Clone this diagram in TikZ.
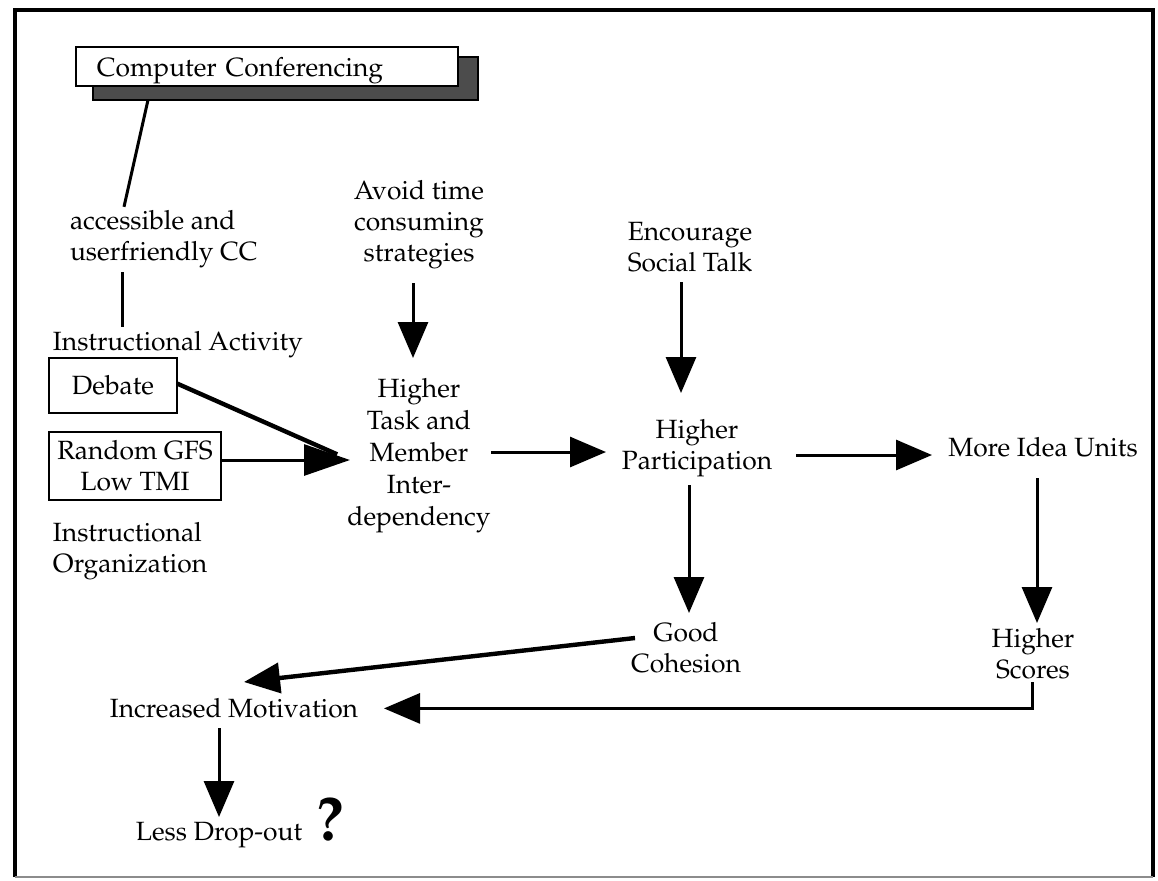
\documentclass[tikz,border=0pt]{standalone}
\usepackage[T1]{fontenc}
\usepackage{mathpazo}
\usetikzlibrary{arrows.meta,calc,backgrounds}
\begin{document}
\begin{tikzpicture}[x=0.5pt,y=-0.5pt,
  lbl/.style={inner sep=0pt,outer sep=0pt,align=center,font=\fontsize{13.2}{15.5}\selectfont},
  lbll/.style={lbl,align=left},
  boxed/.style={lbl,draw,line width=1pt},
  link/.style={line width=1.5pt},
  thicklink/.style={line width=2.2pt},
  arr/.style={link,-{Triangle[length=18pt,width=15pt]}},
  bigarr/.style={link,-{Triangle[length=23pt,width=15.5pt]}},
  shadowbox/.style={fill=black!70,draw=black,line width=1pt},
]
\useasboundingbox (0,0) rectangle (1158,880);

% outer frame
\draw[line width=1.8pt] (15,877) -- (15,10) -- (1153,10) -- (1153,877);
\draw[line width=1.2pt,black!45] (15,877) -- (1153,877);

% title box with drop shadow
\node[boxed,fill=white,anchor=north west,minimum width=191pt,minimum height=19.5pt,
      text width=170pt,inner xsep=10.5pt,text height=11pt,text depth=1pt,align=left]
  (cc) at (76,47) {Computer Conferencing};
\begin{pgfonlayer}{background}
  \filldraw[shadowbox] ($(cc.north west)+(17,10)$) rectangle ($(cc.south east)+(20,14)$);
\end{pgfonlayer}

% labels
\node[lbll,anchor=west] (acc) at (70,239.6) {accessible and\\userfriendly CC};
\node[lbll,anchor=west] (ia) at (53,345) {Instructional Activity};
\node[boxed,minimum width=64pt,minimum height=27.5pt] (deb) at (113,385.5) {Debate};
\node[boxed,minimum width=86pt,minimum height=34pt] (rnd) at (135,466) {Random GFS\\Low TMI};
\node[lbll,anchor=west] (org) at (53,551) {Instructional\\Organization};
\node[lbl] (avoid) at (419,225) {Avoid time\\consuming\\strategies};
\node[lbl,font=\fontsize{13.2}{16}\selectfont] (htm) at (419,456) {Higher\\Task and\\Member\\Inter-\\dependency};
\node[lbl] (enc) at (690,247) {Encourage\\Social Talk};
\node[lbl] (hp) at (697,448.6) {Higher\\Participation};
\node[lbl] (miu) at (1043,447.5) {More Idea Units};
\node[lbl] (gc) at (686,648) {Good\\Cohesion};
\node[lbl] (hs) at (1033,653.4) {Higher\\Scores};
\node[lbl] (im) at (234,708.4) {Increased Motivation};
\node[lbl,anchor=base] (ld) at (219,840) {Less Drop-out};
\node[lbl,anchor=base west,font=\fontsize{31}{31}\selectfont\bfseries] (qm) at ($(ld.base east)+(14,0)$) {?};

% connectors
\draw[link] ($(cc.south west)+(72,14)$) -- ($(acc.north west)+(54,-4)$);
\draw[link] ($(acc.south west)+(52,4)$) -- ($(ia.north west)+(69,-5)$);
\draw[thicklink,shorten >=7pt] ($(deb.east)+(0,-2)$) -- ($(htm.center)+(-69,4)$);
\draw[bigarr] ($(rnd.east)+(0,-6)$) -- ($(htm.center)+(-69,4)$);
\draw[arr] ($(avoid.center)+(-6,58)$) -- ($(htm.center)+(-6,-98)$);
\draw[arr] ($(htm.center)+(72,-4)$) -- ($(hp.center)+(-91,3.4)$);
\draw[arr] ($(enc.center)+(-9,35)$) -- ($(hp.center)+(-16,-55.6)$);
\draw[arr] ($(hp.center)+(99,6.4)$) -- ($(miu.center)+(-111,7.5)$);
\draw[arr] ($(hp.center)+(-8,36.4)$) -- ($(gc.center)+(3,-35)$);
\draw[arr] ($(miu.center)+(-6,30.5)$) -- ($(hs.center)+(4,-30.4)$);
\draw[arr,thicklink] ($(gc.center)+(-51,-10)$) -- ($(im.center)+(10,-26.4)$);
\draw[arr] ($(hs.center)+(-1,28.6)$) |- ($(im.center)+(150,0)$);
\draw[arr] ($(im.center)+(-15,19.6)$) -- ($(ld.base)+(0,-23)$);
\end{tikzpicture}
\end{document}
